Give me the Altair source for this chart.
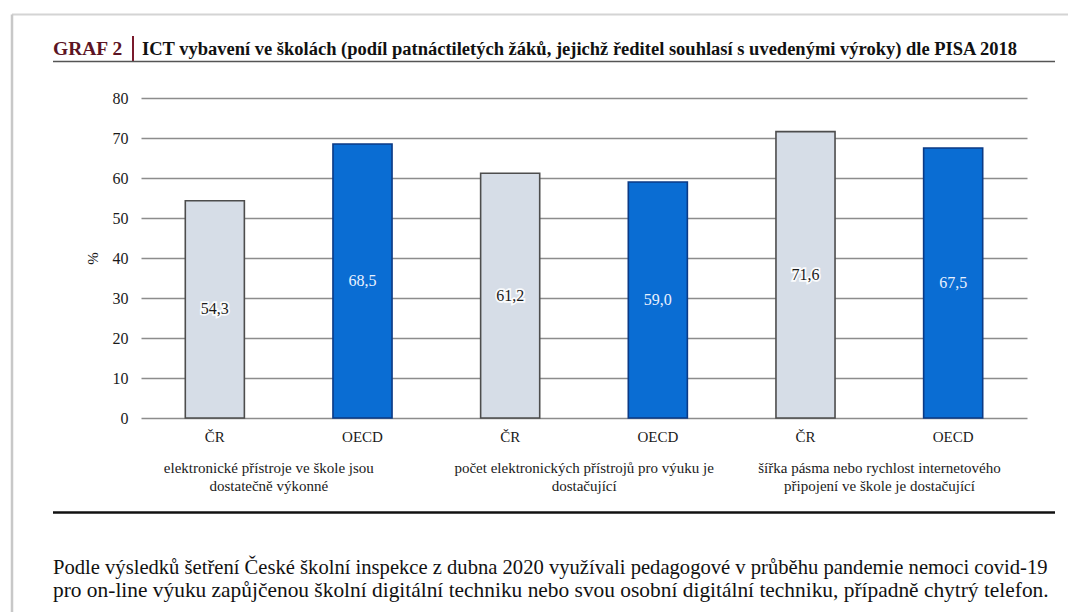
import altair as alt
import pandas as pd

# ---- data ----
group_labels = [
    "elektronické přístroje ve škole jsou\ndostatečně výkonné",
    "počet elektronických přístrojů pro výuku je\ndostačující",
    "šířka pásma nebo rychlost internetového\npřipojení ve škole je dostačující",
]
countries = ["ČR", "OECD"]
cr_values = [54.3, 61.2, 71.6]
oecd_values = [68.5, 59.0, 67.5]
y_ticks = [0, 10, 20, 30, 40, 50, 60, 70, 80]

title_prefix = "GRAF 2"
title_main = "ICT vybavení ve školách (podíl patnáctiletých žáků, jejichž ředitel souhlasí s uvedenými výroky) dle PISA 2018"
note_lines = [
    "Podle výsledků šetření České školní inspekce z dubna 2020 využívali pedagogové v průběhu pandemie nemoci covid-19",
    "pro on-line výuku zapůjčenou školní digitální techniku nebo svou osobní digitální techniku, případně chytrý telefon.",
]

rows = []
for i, g in enumerate(group_labels):
    for c, v in zip(countries, [cr_values[i], oecd_values[i]]):
        rows.append({"key": f"{i}|{c}", "country": c, "value": v,
                     "label": f"{v:.1f}".replace(".", ","), "group": i})
df = pd.DataFrame(rows)
order = list(df["key"])

groups_df = pd.DataFrame({"key": [f"{i}|ČR" for i in range(3)], "text": group_labels,
                          "group": [0, 1, 2]})

SERIF = "Liberation Serif"
xscale = alt.Scale(paddingInner=0.6, paddingOuter=0.3)
yscale = alt.Scale(domain=[0, 80], nice=False)

x_axis = alt.Axis(labelExpr="split(datum.label, '|')[1]", labelAngle=0,
                  labelFont=SERIF, labelFontSize=15, labelColor="#1a1a1a",
                  labelPadding=11, domain=False, ticks=False, grid=False, title=None)
y_axis = alt.Axis(values=y_ticks, labelFont=SERIF, labelFontSize=16,
                  labelColor="#1a1a1a", labelPadding=13, domain=False,
                  ticks=False, gridColor="#8c8c8c", gridWidth=1.6,
                  labelOverlap=False, title="%",
                  titleFont=SERIF, titleFontSize=15, titleFontWeight="normal",
                  titleColor="#1a1a1a", titlePadding=12)

x = alt.X("key:N", sort=order, title=None, scale=xscale, axis=x_axis)
y = alt.Y("value:Q", title="%", scale=yscale, axis=y_axis)
y_mid = alt.Y("mid:Q", title="%", scale=yscale, axis=y_axis)

base = alt.Chart(df)

bars = base.mark_bar().encode(
    x=x, y=y,
    color=alt.Color("country:N", scale=alt.Scale(domain=countries, range=["#d6dde7", "#0a6dd3"]), legend=None),
    stroke=alt.Stroke("country:N", scale=alt.Scale(domain=countries, range=["#4d4d4d", "#0b3a85"]), legend=None),
    strokeWidth=alt.value(1.6),
)

halo = base.transform_filter(alt.datum.country == "ČR").transform_calculate(
    mid="datum.value / 2"
).mark_text(
    font=SERIF, fontSize=16, stroke="white", strokeWidth=3.5, strokeOpacity=0.9, color="white"
).encode(x=x, y=y_mid, text="label:N")

labels = base.transform_calculate(mid="datum.value / 2").mark_text(
    font=SERIF, fontSize=16
).encode(
    x=x, y=y_mid,
    text="label:N",
    color=alt.condition(alt.datum.country == "ČR", alt.value("#1a1a1a"), alt.value("#eaf2ff")),
)

grp_first = alt.Chart(groups_df).transform_filter(alt.datum.group == 0).mark_text(
    font=SERIF, fontSize=15, baseline="top", lineBreak="\n", lineHeight=18, dx=54, color="#1a1a1a"
).encode(x=x, y=alt.value(363), text="text:N")
grp_rest = alt.Chart(groups_df).transform_filter(alt.datum.group > 0).mark_text(
    font=SERIF, fontSize=15, baseline="top", lineBreak="\n", lineHeight=18, dx=74, color="#1a1a1a"
).encode(x=x, y=alt.value(363), text="text:N")

deco_df = pd.DataFrame({"d": [0]})
deco = alt.Chart(deco_df)

title_a = deco.mark_text(font=SERIF, fontSize=19.5, fontWeight="bold", color="#5c1424",
                         align="left", baseline="alphabetic").encode(
    x=alt.value(-88), y=alt.value(-43), text=alt.value(title_prefix))
title_bar = deco.mark_rule(color="#7a1a2c", strokeWidth=2).encode(
    x=alt.value(-8), y=alt.value(-62), y2=alt.value(-37))
title_b = deco.mark_text(font=SERIF, fontSize=18.5, fontWeight="bold", color="#111111",
                         align="left", baseline="alphabetic").encode(
    x=alt.value(1), y=alt.value(-43), text=alt.value(title_main))
underline = deco.mark_rule(color="#555555", strokeWidth=1.5).encode(
    x=alt.value(-88), x2=alt.value(914), y=alt.value(-36.5))
black_line = deco.mark_rule(color="#111111", strokeWidth=2.5).encode(
    x=alt.value(-88), x2=alt.value(914), y=alt.value(414.5))
note1 = deco.mark_text(font=SERIF, fontSize=20.6, color="#111111", align="left",
                       baseline="alphabetic").encode(
    x=alt.value(-88), y=alt.value(476), text=alt.value(note_lines[0]))
note2 = deco.mark_text(font=SERIF, fontSize=21.4, color="#111111", align="left",
                       baseline="alphabetic").encode(
    x=alt.value(-88), y=alt.value(499), text=alt.value(note_lines[1]))
frame_top = deco.mark_rule(color="#d4d4d4", strokeWidth=2).encode(
    x=alt.value(-129), x2=alt.value(927), y=alt.value(-83.5))
frame_left = deco.mark_rule(color="#c8c8c8", strokeWidth=2.5).encode(
    x=alt.value(-129), y=alt.value(-83.5), y2=alt.value(514))

chart = alt.layer(
    bars, halo, labels, grp_first, grp_rest,
    frame_top, frame_left, title_a, title_bar, title_b, underline, black_line, note1, note2,
).properties(
    width=886, height=320,
    background="white",
    autosize=alt.AutoSizeParams(type="none"),
    padding={"left": 141, "top": 98, "right": 41, "bottom": 194},
).configure_view(strokeWidth=0)

chart.save("out.html", embed_options={"renderer": "svg", "actions": False})
